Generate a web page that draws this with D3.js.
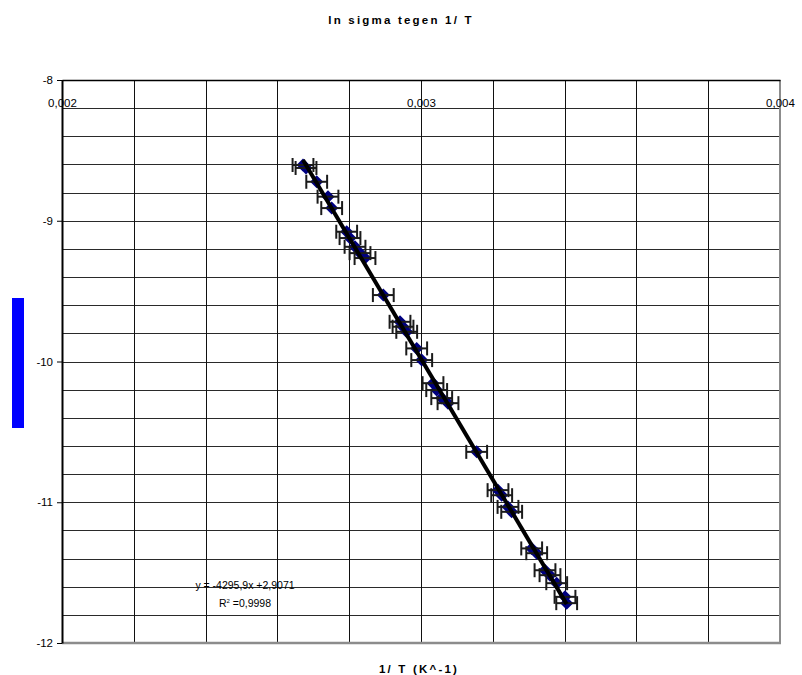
<!DOCTYPE html>
<html>
<head>
<meta charset="utf-8">
<script src="https://cdn.jsdelivr.net/npm/d3@7"></script>
<style>
  body { margin: 0; background: #fff; }
  text { font-family: "Liberation Sans", Arial, sans-serif; }
</style>
</head>
<body>
<div id="main"></div>
<script>
// 1/T (K^-1) and ln sigma
var invT = [0.0026713, 0.0026797, 0.0027095, 0.0027409, 0.0027512, 0.0027930, 0.0028022,
  0.0028162, 0.0028301, 0.0028440, 0.0028950, 0.0029415, 0.0029499, 0.0029602, 0.0029880,
  0.0030020, 0.0030334, 0.0030437, 0.0030577, 0.0030752, 0.0031551, 0.0032145, 0.0032248,
  0.0032423, 0.0032526, 0.0033083, 0.0033223, 0.0033454, 0.0033593, 0.0033780, 0.0034011,
  0.0034058];
var lnSigma = [-8.604, -8.625, -8.723, -8.829, -8.910, -9.078, -9.123,
  -9.185, -9.230, -9.265, -9.528, -9.718, -9.753, -9.789, -9.907,
  -9.990, -10.154, -10.203, -10.260, -10.296, -10.642, -10.914, -10.950,
  -11.033, -11.068, -11.328, -11.362, -11.483, -11.518, -11.575, -11.672,
  -11.717];
var xErr = 0.000029;

// trendline y = a*x + b
var slope = -4295.9;
var intercept = 2.9071;

var xTicks = [0.002, 0.003, 0.004];
var yTicks = [-12, -11, -10, -9, -8];

var title = "ln sigma tegen 1/ T";
var xTitle = "1/ T (K^-1)";
var eqLabel = "y = -4295,9x +2,9071";
var r2Label = "0,9998";

var W = 802, H = 675;
var plot = { left: 62, right: 780, top: 80, bottom: 643 };

var loc = d3.formatLocale({ decimal: ",", thousands: ".", grouping: [3], currency: ["", ""], minus: "-" });

var svg = d3.select("#main").append("svg")
  .attr("width", W)
  .attr("height", H);

var x = d3.scaleLinear()
  .domain([0.002, 0.004])
  .range([plot.left, plot.right]);

var y = d3.scaleLinear()
  .domain([-12, -8])
  .range([plot.bottom, plot.top]);

// grid
var grid = svg.append("g");
grid.selectAll(".hgrid")
  .data(d3.range(0, 21).map(function(i) { return -12 + i * 0.2; }))
.enter().append("line")
  .attr("x1", plot.left).attr("x2", plot.right)
  .attr("y1", function(d) { return Math.round(y(d)) + 0.5; })
  .attr("y2", function(d) { return Math.round(y(d)) + 0.5; })
  .attr("stroke", "#2a2a2a").attr("stroke-width", 1);
grid.selectAll(".vgrid")
  .data(d3.range(0, 11).map(function(i) { return 0.002 + i * 0.0002; }))
.enter().append("line")
  .attr("y1", plot.top).attr("y2", plot.bottom)
  .attr("x1", function(d) { return Math.round(x(d)) + 0.5; })
  .attr("x2", function(d) { return Math.round(x(d)) + 0.5; })
  .attr("stroke", "#111").attr("stroke-width", 1);

// plot border (bottom/right grey)
svg.append("line")
  .attr("x1", plot.left).attr("x2", plot.right + 1)
  .attr("y1", plot.bottom).attr("y2", plot.bottom)
  .attr("stroke", "#8c8c8c").attr("stroke-width", 2.5);
svg.append("line")
  .attr("x1", plot.right).attr("x2", plot.right)
  .attr("y1", plot.top).attr("y2", plot.bottom)
  .attr("stroke", "#8c8c8c").attr("stroke-width", 2);

// x axis sits on top (crosses at -8), labels under the line
var xAxis = svg.append("g")
  .attr("transform", "translate(0," + plot.top + ")")
  .call(d3.axisBottom(x).tickValues(xTicks).tickSize(0).tickPadding(19)
    .tickFormat(loc.format(".3f")));
xAxis.select(".domain").attr("stroke", "#000").attr("stroke-width", 1.5);
xAxis.selectAll("text").attr("font-size", 11.5).attr("fill", "#000")
  .style("font-family", "Liberation Sans, Arial, sans-serif");

var yAxis = svg.append("g")
  .attr("transform", "translate(" + plot.left + ",0)")
  .call(d3.axisLeft(y).tickValues(yTicks).tickSize(5).tickPadding(4)
    .tickSizeOuter(0).tickFormat(loc.format("d")));
yAxis.select(".domain").attr("stroke", "#000").attr("stroke-width", 2);
yAxis.selectAll(".tick line").attr("stroke", "#000").attr("stroke-width", 1);
yAxis.selectAll("text").attr("font-size", 11.5).attr("fill", "#000")
  .style("font-family", "Liberation Sans, Arial, sans-serif");

var pts = invT.map(function(v, i) { return [v, lnSigma[i]]; });

// markers
svg.append("g").selectAll("path")
  .data(pts)
.enter().append("path")
  .attr("transform", function(d) { return "translate(" + x(d[0]) + "," + y(d[1]) + ")"; })
  .attr("d", "M0,-6.5L6.5,0L0,6.5L-6.5,0Z")
  .attr("fill", "#000080");

// horizontal error bars
var eb = svg.append("g").attr("stroke", "#1a1a1a").attr("stroke-width", 2).attr("fill", "none");
pts.forEach(function(d) {
  var cy = y(d[1]);
  var x0 = x(d[0] - xErr), x1 = x(d[0] + xErr);
  eb.append("line").attr("x1", x0).attr("x2", x1).attr("y1", cy).attr("y2", cy);
  eb.append("line").attr("x1", x0).attr("x2", x0).attr("y1", cy - 7).attr("y2", cy + 7);
  eb.append("line").attr("x1", x1).attr("x2", x1).attr("y1", cy - 7).attr("y2", cy + 7);
});

// linear trendline over the data range
var tx = d3.extent(invT);
svg.append("line")
  .attr("x1", x(tx[0])).attr("y1", y(slope * tx[0] + intercept))
  .attr("x2", x(tx[1])).attr("y2", y(slope * tx[1] + intercept))
  .attr("stroke", "#000").attr("stroke-width", 4);

// trendline label
svg.append("text")
  .attr("x", 245).attr("y", 589)
  .attr("text-anchor", "middle").attr("font-size", 10.5)
  .text(eqLabel);
var r2 = svg.append("text")
  .attr("x", 245).attr("y", 607)
  .attr("text-anchor", "middle").attr("font-size", 10.5);
r2.append("tspan").text("R");
r2.append("tspan").attr("dy", -4).attr("font-size", 6).text("2");
r2.append("tspan").attr("dy", 4).text(" =" + r2Label);

// titles
svg.append("text")
  .attr("x", 401).attr("y", 24)
  .attr("text-anchor", "middle").attr("font-size", 11.5).attr("font-weight", "bold")
  .attr("letter-spacing", 2.2)
  .text(title);
svg.append("text")
  .attr("x", 419).attr("y", 673)
  .attr("text-anchor", "middle").attr("font-size", 11.5).attr("font-weight", "bold")
  .attr("letter-spacing", 2.2)
  .text(xTitle);

// y title shows as a solid blue block
svg.append("rect")
  .attr("x", 12).attr("y", 298)
  .attr("width", 12).attr("height", 130)
  .attr("fill", "#0000ff");
</script>
</body>
</html>
